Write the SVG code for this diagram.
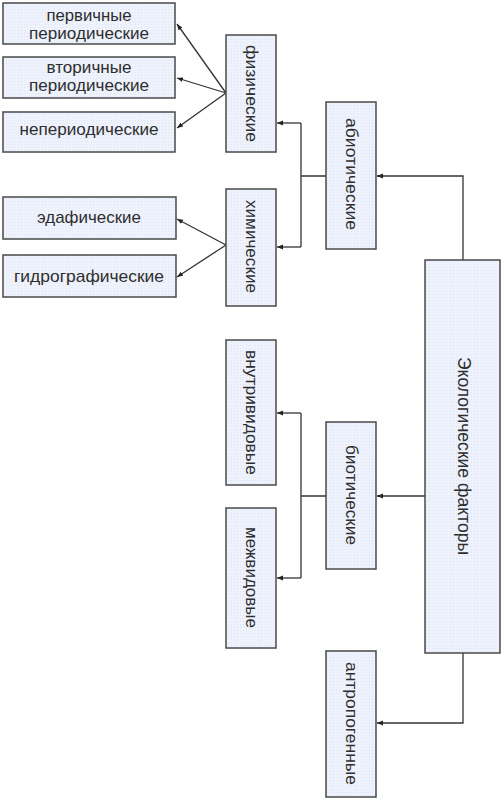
<svg xmlns="http://www.w3.org/2000/svg" width="502" height="799" viewBox="0 0 502 799">
<defs>
<pattern id="dots" width="3" height="3" patternUnits="userSpaceOnUse">
<rect width="3" height="3" fill="#eef2fc"/>
<rect width="1" height="1" fill="#dfe5f4"/>
</pattern>
<marker id="ah" viewBox="0 0 10 10" refX="10" refY="5" markerWidth="6" markerHeight="6" orient="auto" markerUnits="userSpaceOnUse">
<path d="M0,1 L10,5 L0,9 Z" fill="#222"/>
</marker>
<style>
.box{fill:url(#dots);stroke:#4a4a4a;stroke-width:1.5}
.t{font-family:"Liberation Sans",Arial,sans-serif;font-size:17px;fill:#2e2e2e;text-anchor:middle}
.big{font-size:19px}
.c{fill:none;stroke:#333;stroke-width:1.3}
.a{marker-end:url(#ah)}
</style>
</defs>
<rect width="502" height="799" fill="#fff"/>

<g id="connectors">
<path class="c a" d="M463,260 V176 H377"/>
<path class="c" d="M326,176 H301 M301,123 V247"/>
<path class="c a" d="M301,123 H277"/>
<path class="c a" d="M301,247 H277"/>
<path class="c a" d="M425,496 H377"/>
<path class="c" d="M326,496 H301 M301,413 V578"/>
<path class="c a" d="M301,413 H277"/>
<path class="c a" d="M301,578 H277"/>
<path class="c a" d="M463,653 V723 H377"/>
<path class="c a" d="M226,93 L177,24"/>
<path class="c a" d="M226,93 L177,78"/>
<path class="c a" d="M226,93 L177,128"/>
<path class="c a" d="M226,245 L177,219"/>
<path class="c a" d="M226,245 L177,277"/>
</g>

<g id="n-primary">
<rect class="box" x="3" y="3" width="172" height="41"/>
<text class="t" x="89" y="21" textLength="85" lengthAdjust="spacingAndGlyphs">первичные</text>
<text class="t" x="89" y="38.5" textLength="120" lengthAdjust="spacingAndGlyphs">периодические</text>
</g>
<g id="n-secondary">
<rect class="box" x="3" y="57" width="172" height="41"/>
<text class="t" x="89" y="73" textLength="85" lengthAdjust="spacingAndGlyphs">вторичные</text>
<text class="t" x="89" y="91" textLength="120" lengthAdjust="spacingAndGlyphs">периодические</text>
</g>
<g id="n-nonperiodic">
<rect class="box" x="3" y="112" width="172" height="40"/>
<text class="t" x="89" y="135" textLength="139" lengthAdjust="spacingAndGlyphs">непериодические</text>
</g>
<g id="n-edaphic">
<rect class="box" x="3" y="197" width="173" height="42"/>
<text class="t" x="89" y="223" textLength="104" lengthAdjust="spacingAndGlyphs">эдафические</text>
</g>
<g id="n-hydro">
<rect class="box" x="3" y="255" width="173" height="42"/>
<text class="t" x="89" y="281.5" textLength="150" lengthAdjust="spacingAndGlyphs">гидрографические</text>
</g>

<g id="n-physical">
<rect class="box" x="226" y="35" width="50" height="117"/>
<text class="t" transform="translate(251,93.5) rotate(90)" y="5" textLength="97" lengthAdjust="spacingAndGlyphs">физические</text>
</g>
<g id="n-chemical">
<rect class="box" x="226" y="189" width="50" height="117"/>
<text class="t" transform="translate(251,246.5) rotate(90)" y="5" textLength="93" lengthAdjust="spacingAndGlyphs">химические</text>
</g>
<g id="n-abiotic">
<rect class="box" x="326" y="102" width="50" height="147"/>
<text class="t" transform="translate(351,174) rotate(90)" y="5" textLength="112" lengthAdjust="spacingAndGlyphs">абиотические</text>
</g>
<g id="n-intra">
<rect class="box" x="226" y="340" width="50" height="145"/>
<text class="t" transform="translate(251,412.5) rotate(90)" y="5" textLength="125" lengthAdjust="spacingAndGlyphs">внутривидовые</text>
</g>
<g id="n-inter">
<rect class="box" x="226" y="508" width="50" height="140"/>
<text class="t" transform="translate(251,577.5) rotate(90)" y="5" textLength="101" lengthAdjust="spacingAndGlyphs">межвидовые</text>
</g>
<g id="n-biotic">
<rect class="box" x="326" y="422" width="50" height="147"/>
<text class="t" transform="translate(351,495) rotate(90)" y="5" textLength="100" lengthAdjust="spacingAndGlyphs">биотические</text>
</g>
<g id="n-anthropogenic">
<rect class="box" x="326" y="651" width="50" height="146"/>
<text class="t" transform="translate(351,723.5) rotate(90)" y="5" textLength="123" lengthAdjust="spacingAndGlyphs">антропогенные</text>
</g>
<g id="n-eco">
<rect class="box" x="425" y="260" width="75" height="393"/>
<text class="t big" transform="translate(463,456) rotate(90)" y="5.5" textLength="198" lengthAdjust="spacingAndGlyphs">Экологические факторы</text>
</g>
</svg>
